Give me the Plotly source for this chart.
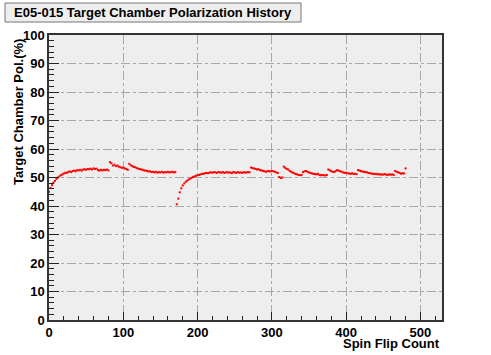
import plotly.graph_objects as go

# polarization readings, one every 2 spin flips
flip_start = 0
flip_step = 2
pol = [
    45.0, 46.3, 47.3, 48.2, 48.8, 49.5, 50.0, 50.4, 50.8, 51.1,
    51.4, 51.7, 51.6, 52.0, 52.1, 51.9, 52.3, 52.4, 52.2, 52.6,
    52.5, 52.7, 52.4, 52.8, 52.9, 52.7, 53.0, 52.9, 53.1, 52.8,
    53.2, 53.0, 53.1, 52.6, 52.4, 52.7, 52.5, 52.7, 52.6, 52.8,
    52.5, 55.4, 55.0, 54.2, 54.5, 54.0, 54.2, 53.8, 53.6, 53.4,
    53.5, 53.2, 53.0, 52.7, 54.8, 54.3, 54.0, 53.7, 53.6, 53.3,
    53.1, 53.0, 52.8, 52.7, 52.5, 52.4, 52.3, 52.1, 52.2, 51.9,
    52.0, 51.8, 52.0, 51.7, 51.9, 51.8, 52.0, 51.7, 51.9, 51.8,
    52.0, 51.8, 51.9, 52.0, 51.8, 51.9, 40.6, 42.6, 44.8, 46.2,
    47.2, 47.9, 48.5, 48.9, 49.3, 49.6, 49.9, 50.2, 50.4, 50.6,
    50.8, 50.9, 51.1, 51.3, 51.3, 51.5, 51.6, 51.5, 51.7, 51.8,
    51.7, 51.9, 51.8, 51.6, 51.9, 51.8, 51.7, 51.9, 51.6, 51.8,
    51.9, 51.7, 51.8, 51.5, 51.9, 51.8, 51.6, 51.9, 51.7, 51.8,
    51.6, 51.9, 51.7, 51.8, 51.9, 51.8, 53.5, 53.3, 53.2, 53.0,
    52.8, 52.9, 52.6, 52.5, 52.3, 52.2, 52.0, 52.2, 52.3, 52.1,
    52.3, 52.2, 52.0, 51.8, 51.6, 50.2, 49.8, 50.0, 53.8, 53.4,
    53.0, 52.8, 52.3, 52.0, 51.7, 51.5, 51.2, 51.1, 50.9, 50.8,
    50.9, 51.9, 52.2, 52.3, 52.0, 51.8, 51.6, 51.4, 51.3, 51.2,
    51.1, 51.3, 50.9, 50.8, 50.9, 50.8, 50.7, 50.9, 52.8, 52.5,
    52.2, 52.0, 51.9, 52.3, 52.6, 52.4, 52.2, 52.0, 51.8, 51.6,
    51.7, 51.5, 51.4, 51.3, 51.5, 51.2, 51.3, 51.2, 52.6, 52.4,
    52.2, 52.1, 52.0, 51.9, 51.8, 51.6, 51.5, 51.4, 51.3, 51.2,
    51.3, 51.1, 51.2, 51.0, 51.1, 51.0, 51.2, 51.0, 50.9, 51.1,
    51.0, 51.1, 50.9, 52.3, 52.0, 51.8, 51.6, 51.3, 51.5, 51.4,
    53.2,
]
flips = [flip_start + flip_step * i for i in range(len(pol))]

title = "E05-015 Target Chamber Polarization History"
x_title = "Spin Flip Count"
y_title = "Target Chamber Pol.(%)"

FONT = "Liberation Sans, Arial, sans-serif"

fig = go.Figure(
    go.Scatter(
        x=flips, y=pol, mode="markers",
        marker=dict(symbol="square", size=2, color="#ff0000", line=dict(width=0)),
        hoverinfo="x+y",
    )
)

axis_common = dict(
    showline=True, linecolor="#333333", linewidth=1.5, mirror=True,
    showgrid=True, gridcolor="#a8a8a8", griddash="dashdot", gridwidth=1,
    zeroline=False, ticks="inside", tickcolor="#222222",
    tickfont=dict(family=FONT, size=13, color="black", weight="bold"),
)

fig.update_xaxes(
    range=[0, 529], dtick=100, tick0=0, ticklen=8, ticklabelstandoff=0,
    minor=dict(dtick=20, ticks="inside", ticklen=4, tickcolor="#222222", showgrid=False),
    **axis_common,
)
fig.update_yaxes(
    range=[0, 100], dtick=10, tick0=0, ticklen=10,
    minor=dict(dtick=2, ticks="inside", ticklen=5, tickcolor="#222222", showgrid=False),
    **axis_common,
)

fig.update_layout(
    width=491, height=355,
    margin=dict(l=49, r=49, t=35, b=35),
    paper_bgcolor="white", plot_bgcolor="#eeeeee",
    showlegend=False,
    font=dict(family=FONT, color="black"),
    shapes=[dict(
        type="rect", xref="paper", yref="paper",
        x0=(5 - 49) / 393, x1=(301 - 49) / 393,
        y0=(320 - 22) / 285, y1=(320 - 3) / 285,
        fillcolor="#eeeeee", line=dict(color="#777777", width=1),
        layer="above",
    )],
    annotations=[
        dict(text=title, xref="paper", yref="paper",
             x=(153 - 49) / 393, y=(320 - 12.5) / 285, xanchor="center", yanchor="middle",
             showarrow=False, font=dict(family=FONT, size=13, weight="bold")),
        dict(text=x_title, xref="paper", yref="paper",
             x=1, y=(320 - 343) / 285, xanchor="right", yanchor="middle",
             showarrow=False, font=dict(family=FONT, size=13, weight="bold")),
        dict(text=y_title, xref="paper", yref="paper", textangle=-90,
             x=(18 - 49) / 393, y=(320 - 37) / 285, xanchor="center", yanchor="top",
             showarrow=False, font=dict(family=FONT, size=13, weight="bold")),
    ],
)

# the page body has an 8px default margin; drop it so the figure sits at the corner
fig.write_html(
    "out.html",
    config={"displayModeBar": False},
    post_script="document.body.style.margin = '0';",
)
